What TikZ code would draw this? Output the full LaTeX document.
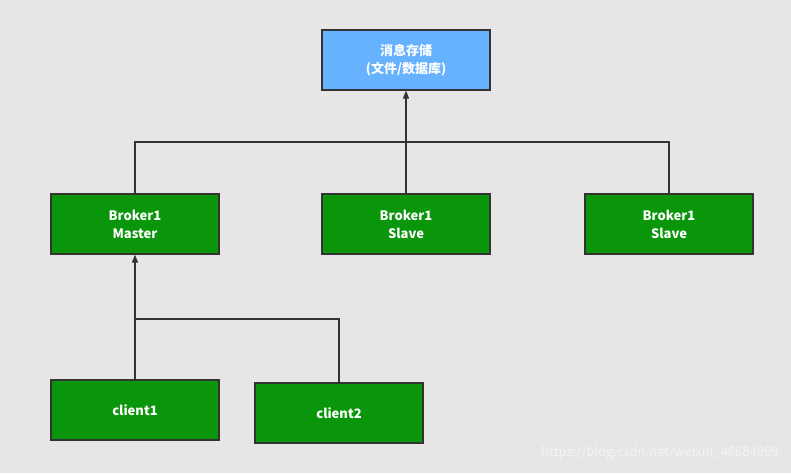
\documentclass[tikz,border=0pt]{standalone}
\usepackage{fontspec}
\setmainfont{Noto Sans CJK SC}
\usetikzlibrary{arrows.meta}
\definecolor{bg}{HTML}{E6E6E6}
\definecolor{topblue}{HTML}{66B2FF}
\definecolor{boxgreen}{HTML}{0A960A}
\definecolor{edge}{HTML}{333333}
\definecolor{wm}{HTML}{F4F4F4}
\begin{document}
\begin{tikzpicture}[x=1pt,y=-1pt,
  box/.style={draw=edge,line width=1.2pt,minimum width=168pt,minimum height=60pt,
    inner sep=0pt,text=white,font=\bfseries\fontsize{13}{18}\selectfont,align=center},
  gbox/.style={box,fill=boxgreen},
  bbox/.style={box,fill=topblue},
  conn/.style={draw=edge,line width=1.2pt},
  arr/.style={conn,-{Triangle[length=8pt,width=6pt]}}]
\fill[bg] (0,0) rectangle (791,473);
\useasboundingbox (0,0) rectangle (791,473);
\node[bbox] (store) at (406,60) {消息存储\\(文件/数据库)};
\node[gbox] (master) at (135,224) {Broker1\\Master};
\node[gbox] (slave1) at (406,224) {Broker1\\Slave};
\node[gbox] (slave2) at (669,224) {Broker1\\Slave};
\node[gbox] (c1) at (135,410) {client1};
\node[gbox] (c2) at (339,413) {client2};
\coordinate (j1) at (406,142);
\coordinate (j2) at (135,319);
\draw[conn] (master.north) |- (j1) -| (slave2.north);
\draw[arr] (slave1.north) -- (store.south);
\draw[conn] (c2.north) |- (j2);
\draw[arr] (c1.north) -- (master.south);
\node[text=wm,font=\fontsize{13}{15}\selectfont,anchor=east] (wmk) at (782,453) {https://blog.csdn.net/weixin\_46684099};
\end{tikzpicture}
\end{document}
